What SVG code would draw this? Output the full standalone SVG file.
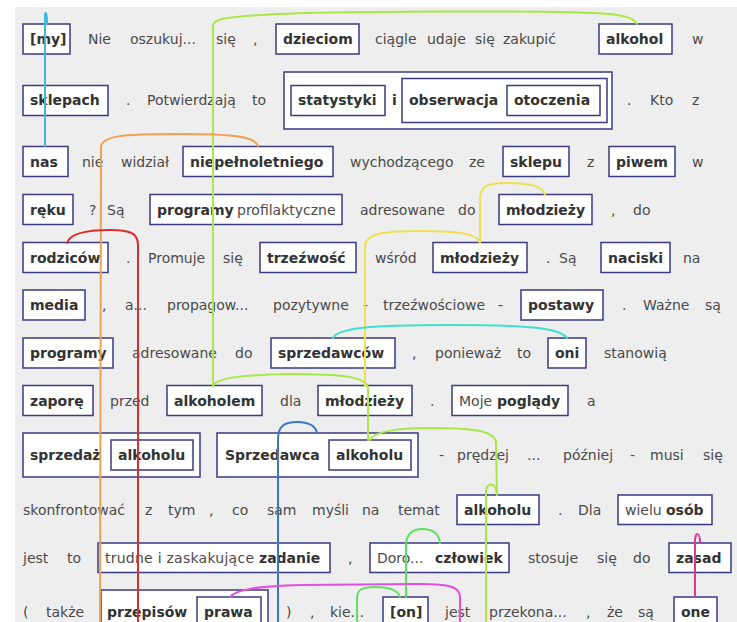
<svg xmlns="http://www.w3.org/2000/svg" width="737" height="622" viewBox="0 0 737 622">
<style>
.b{fill:#fff;stroke:#3a3a82;stroke-width:1.5}
text{font-family:"DejaVu Sans",Verdana,sans-serif;font-size:14px;fill:#4a4a4a}
.k{font-weight:bold;fill:#333}
.c{fill:none;stroke-width:2;stroke-linecap:round}
</style>
<rect x="0" y="0" width="737" height="622" fill="#fff"/>
<rect x="15" y="7" width="722" height="615" fill="#eeeeee"/>

<g id="nodes">
<!-- row 1 -->
<g id="n-my"><rect class="b" x="23" y="24" width="47" height="30"/><text class="k" x="30" y="44">[my]</text></g>
<g id="n-dzieciom"><rect class="b" x="276" y="24" width="83" height="30"/><text class="k" x="283" y="44">dzieciom</text></g>
<g id="n-alkohol"><rect class="b" x="599" y="24" width="73" height="30"/><text class="k" x="606" y="44">alkohol</text></g>
<!-- row 2 -->
<g id="n-sklepach"><rect class="b" x="23" y="85.5" width="85" height="30"/><text class="k" x="30" y="105">sklepach</text></g>
<g id="n-stat-group"><rect class="b" x="284" y="72" width="328" height="57"/>
<g id="n-statystyki"><rect class="b" x="291" y="85.5" width="94" height="30"/><text class="k" x="298" y="105">statystyki</text></g>
<text class="k" x="392" y="105">i</text>
<g id="n-obserwacja"><rect class="b" x="402" y="78.5" width="205" height="44"/><text class="k" x="409" y="105">obserwacja</text>
<g id="n-otoczenia"><rect class="b" x="507" y="85.5" width="93" height="30"/><text class="k" x="514" y="105">otoczenia</text></g></g>
</g>
<!-- row 3 -->
<g id="n-nas"><rect class="b" x="23" y="146.5" width="45" height="30"/><text class="k" x="30" y="166.5">nas</text></g>
<g id="n-niepelnoletniego"><rect class="b" x="183" y="146.5" width="150" height="30"/><text class="k" x="190" y="166.5">niepełnoletniego</text></g>
<g id="n-sklepu"><rect class="b" x="503" y="146.5" width="66" height="30"/><text class="k" x="510" y="166.5">sklepu</text></g>
<g id="n-piwem"><rect class="b" x="609" y="146.5" width="66" height="30"/><text class="k" x="616" y="166.5">piwem</text></g>
<!-- row 4 -->
<g id="n-reku"><rect class="b" x="23" y="194.5" width="50" height="30"/><text class="k" x="30" y="214.5">ręku</text></g>
<g id="n-programy1"><rect class="b" x="150" y="194.5" width="192" height="30"/><text class="k" x="157" y="214.5">programy</text><text x="237" y="214.5">profilaktyczne</text></g>
<g id="n-mlodziezy1"><rect class="b" x="499" y="194.5" width="93" height="30"/><text class="k" x="506" y="214.5">młodzieży</text></g>
<!-- row 5 -->
<g id="n-rodzicow"><rect class="b" x="23" y="242.5" width="85" height="30"/><text class="k" x="30" y="262.5">rodziców</text></g>
<g id="n-trzezwosc"><rect class="b" x="260" y="242.5" width="96" height="30"/><text class="k" x="267" y="262.5">trzeźwość</text></g>
<g id="n-mlodziezy2"><rect class="b" x="433" y="242.5" width="94" height="30"/><text class="k" x="440" y="262.5">młodzieży</text></g>
<g id="n-naciski"><rect class="b" x="601" y="242.5" width="69" height="30"/><text class="k" x="608" y="262.5">naciski</text></g>
<!-- row 6 -->
<g id="n-media"><rect class="b" x="23" y="290" width="62" height="30"/><text class="k" x="30" y="310">media</text></g>
<g id="n-postawy"><rect class="b" x="521" y="290" width="82" height="30"/><text class="k" x="528" y="310">postawy</text></g>
<!-- row 7 -->
<g id="n-programy2"><rect class="b" x="23" y="338" width="90" height="30"/><text class="k" x="30" y="358">programy</text></g>
<g id="n-sprzedawcow"><rect class="b" x="271" y="338" width="124" height="30"/><text class="k" x="278" y="358">sprzedawców</text></g>
<g id="n-oni"><rect class="b" x="548" y="338" width="38" height="30"/><text class="k" x="555" y="358">oni</text></g>
<!-- row 8 -->
<g id="n-zapore"><rect class="b" x="23" y="385.5" width="70" height="30"/><text class="k" x="30" y="405.5">zaporę</text></g>
<g id="n-alkoholem"><rect class="b" x="167" y="385.5" width="95" height="30"/><text class="k" x="174" y="405.5">alkoholem</text></g>
<g id="n-mlodziezy3"><rect class="b" x="318" y="385.5" width="94" height="30"/><text class="k" x="325" y="405.5">młodzieży</text></g>
<g id="n-poglady"><rect class="b" x="452" y="385.5" width="116" height="30"/><text x="459" y="405.5">Moje</text><text class="k" x="497" y="405.5">poglądy</text></g>
<!-- row 9 -->
<g id="n-sprzedaz"><rect class="b" x="23" y="433" width="177" height="44"/><text class="k" x="30" y="460">sprzedaż</text>
<g id="n-alkoholu1"><rect class="b" x="111" y="440" width="82" height="30"/><text class="k" x="118" y="460">alkoholu</text></g></g>
<g id="n-sprzedawca"><rect class="b" x="217" y="433" width="201" height="44"/><text class="k" x="225" y="460">Sprzedawca</text>
<g id="n-alkoholu2"><rect class="b" x="329" y="440" width="82" height="30"/><text class="k" x="336" y="460">alkoholu</text></g></g>
<!-- row 10 -->
<g id="n-alkoholu3"><rect class="b" x="457" y="495" width="82" height="29.5"/><text class="k" x="464" y="515">alkoholu</text></g>
<g id="n-osob"><rect class="b" x="618" y="495" width="94" height="29.5"/><text x="625" y="515">wielu</text><text class="k" x="666" y="515">osób</text></g>
<!-- row 11 -->
<g id="n-zadanie"><rect class="b" x="98" y="543" width="232" height="29.5"/><text x="105" y="562.5" textLength="149" lengthAdjust="spacing">trudne i zaskakujące</text><text class="k" x="259" y="562.5">zadanie</text></g>
<g id="n-czlowiek"><rect class="b" x="370" y="543" width="139" height="29.5"/><text x="377" y="562.5">Doro...</text><text class="k" x="435" y="562.5">człowiek</text></g>
<g id="n-zasad"><rect class="b" x="669" y="543" width="62" height="29.5"/><text class="k" x="676" y="562.5">zasad</text></g>
<!-- row 12 -->
<g id="n-przepisow"><rect class="b" x="101" y="590" width="167" height="44"/><text class="k" x="107" y="617">przepisów</text>
<g id="n-prawa"><rect class="b" x="197" y="597" width="64" height="30"/><text class="k" x="204" y="617">prawa</text></g></g>
<g id="n-on"><rect class="b" x="383" y="597" width="45" height="30"/><text class="k" x="390" y="617">[on]</text></g>
<g id="n-one"><rect class="b" x="674" y="597" width="43" height="30"/><text class="k" x="681" y="617">one</text></g>
</g>

<g id="words">
<text x="88" y="44">Nie</text><text x="130" y="44">oszukuj...</text><text x="216" y="44">się</text><text x="253" y="44">,</text>
<text x="375" y="44">ciągle</text><text x="427" y="44">udaje</text><text x="475" y="44">się</text><text x="503" y="44">zakupić</text><text x="692" y="44">w</text>

<text x="126" y="105">.</text><text x="147" y="105">Potwierdzają</text><text x="252" y="105">to</text>
<text x="627" y="105">.</text><text x="650" y="105">Kto</text><text x="692" y="105">z</text>

<text x="82" y="166.5">nie</text><text x="121" y="166.5">widział</text><text x="350" y="166.5">wychodzącego</text><text x="469" y="166.5">ze</text><text x="587" y="166.5">z</text><text x="692" y="166.5">w</text>

<text x="89" y="214.5">?</text><text x="107" y="214.5">Są</text><text x="360" y="214.5">adresowane</text><text x="458" y="214.5">do</text><text x="611" y="214.5">,</text><text x="633" y="214.5">do</text>

<text x="126" y="262.5">.</text><text x="148" y="262.5">Promuje</text><text x="223" y="262.5">się</text><text x="375" y="262.5">wśród</text><text x="546" y="262.5">.</text><text x="559" y="262.5">Są</text><text x="683" y="262.5">na</text>

<text x="102" y="310">,</text><text x="125" y="310">a...</text><text x="167" y="310">propagow...</text><text x="273" y="310">pozytywne</text><text x="363" y="310">-</text><text x="383" y="310">trzeźwościowe</text><text x="498" y="310">-</text><text x="622" y="310">.</text><text x="643" y="310">Ważne</text><text x="705" y="310">są</text>

<text x="132" y="358">adresowane</text><text x="235" y="358">do</text><text x="412" y="358">,</text><text x="435" y="358">ponieważ</text><text x="517" y="358">to</text><text x="604" y="358">stanowią</text>

<text x="110" y="405.5">przed</text><text x="280" y="405.5">dla</text><text x="430" y="405.5">.</text><text x="587" y="405.5">a</text>

<text x="439" y="460">-</text><text x="457" y="460">prędzej</text><text x="527" y="460">...</text><text x="563" y="460">później</text><text x="630" y="460">-</text><text x="650" y="460">musi</text><text x="703" y="460">się</text>

<text x="23" y="515">skonfrontować</text><text x="145" y="515">z</text><text x="168" y="515">tym</text><text x="209" y="515">,</text><text x="232" y="515">co</text><text x="267" y="515">sam</text><text x="312" y="515">myśli</text><text x="362" y="515">na</text><text x="398" y="515">temat</text><text x="558" y="515">.</text><text x="578" y="515">Dla</text>

<text x="23" y="562.5">jest</text><text x="67" y="562.5">to</text><text x="348" y="562.5">,</text><text x="528" y="562.5">stosuje</text><text x="597" y="562.5">się</text><text x="633" y="562.5">do</text>

<text x="23" y="617">(</text><text x="46" y="617">także</text><text x="286" y="617">)</text><text x="310" y="617">,</text><text x="330" y="617">kie...</text><text x="445" y="617">jest</text><text x="489" y="617">przekona...</text><text x="586" y="617">,</text><text x="607" y="617">że</text><text x="638" y="617">są</text>
</g>

<g id="connectors">
<path class="c" stroke="#40b8e0" d="M45,146 L45,16 C45,11 47,11 47,24"/>
<path class="c" stroke="#a8e848" d="M213,386 L213,26 C213,19 222,18 260,15 C320,11 560,10 610,14 C628,16 634,19 637,24"/>
<path class="c" stroke="#a8e848" d="M213,386 C216,378 240,375 290,374 C340,374 366,376 368,388 L368,440"/>
<path class="c" stroke="#a8e848" d="M370,440 C374,432 395,428 430,428 C470,428 494,430 496,442 L497,495"/>
<path class="c" stroke="#a8e848" d="M486,622 L486,492 C486,482 496,481 497,495"/>
<path class="c" stroke="#f0a050" d="M258,146 C255,136 230,134 180,134 C120,134 102,136 101,147 L100,622"/>
<path class="c" stroke="#d83030" d="M67,243 C70,233 90,230 110,230 C130,230 138,233 138,245 L138,622"/>
<path class="c" stroke="#f0e050" d="M545,195 C543,186 530,183 505,183 C488,183 480,186 480,200 L480,243"/>
<path class="c" stroke="#f0e050" d="M480,243 C478,234 460,231 420,231 C380,231 366,234 365,246 L365,386"/>
<path class="c" stroke="#40e0d0" d="M333,338 C338,328 370,325 450,325 C530,325 560,328 567,338"/>
<path class="c" stroke="#3878c8" d="M317,433 C315,424 305,422 297,422 C284,422 278,426 278,440 L278,622"/>
<path class="c" stroke="#60e060" d="M406,597 L406,545 C406,535 412,529 422,529 C433,529 439,534 440,543"/>
<path class="c" stroke="#60e060" d="M357,622 L357,598 C357,590 362,587 375,587 C390,587 398,590 400,597"/>
<path class="c" stroke="#e050e0" d="M230,597 C236,589 260,586 300,585 L420,584 C450,584 460,587 460,597 L460,622"/>
<path class="c" stroke="#e03890" d="M695,597 L695,541 C695,532 700,531 700,543"/>
</g>
</svg>
